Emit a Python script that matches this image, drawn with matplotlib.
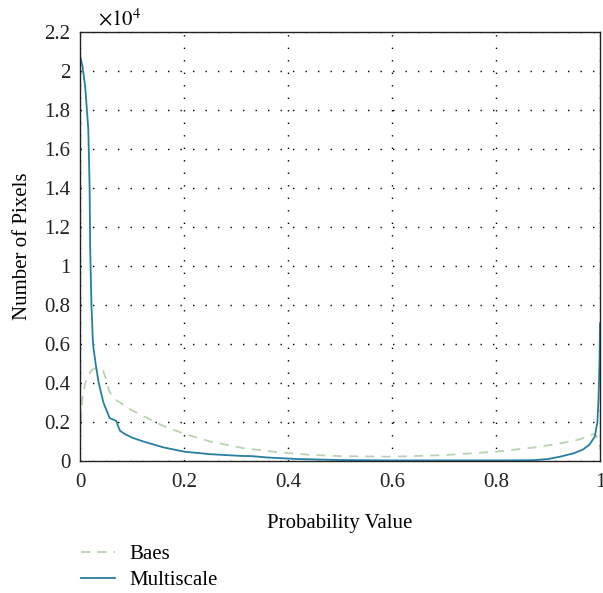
import matplotlib
matplotlib.use("Agg")
import matplotlib.pyplot as plt

plt.rcParams.update({
    "font.family": ["Liberation Serif", "DejaVu Serif"],
    "mathtext.fontset": "stix",
    "font.size": 15,
})

# values in units of 1e4 pixels
ms_x = [0, 0.005, 0.01, 0.016, 0.0185, 0.0195, 0.022, 0.025, 0.03, 0.036, 0.045,
        0.057, 0.066, 0.07, 0.073, 0.077, 0.085, 0.1, 0.122, 0.16, 0.2, 0.25, 0.31,
        0.33, 0.36, 0.42, 0.5, 0.6, 0.7, 0.8, 0.87, 0.9, 0.923, 0.95, 0.968,
        0.98, 0.99, 0.995, 0.997, 0.999, 1.0]
ms_y = [2.08, 2.02, 1.92, 1.70, 1.40, 1.10, 0.80, 0.60, 0.50, 0.40, 0.30,
        0.22, 0.21, 0.205, 0.18, 0.155, 0.14, 0.12, 0.10, 0.07, 0.048, 0.035, 0.026,
        0.025, 0.018, 0.01, 0.005, 0.003, 0.003, 0.003, 0.004, 0.01, 0.022, 0.04, 0.06,
        0.085, 0.125, 0.2, 0.31, 0.5, 0.706]

baes_x = [0, 0.004, 0.01, 0.016, 0.022, 0.029, 0.037, 0.045, 0.05, 0.056, 0.065,
          0.077, 0.1, 0.122, 0.16, 0.2, 0.25, 0.314, 0.38, 0.44, 0.5, 0.6, 0.7,
          0.8, 0.87, 0.923, 0.96, 0.99, 0.995, 1.0]
baes_y = [0.12, 0.31, 0.40, 0.44, 0.465, 0.475, 0.47, 0.46, 0.42, 0.36, 0.32,
          0.30, 0.26, 0.23, 0.18, 0.14, 0.10, 0.066, 0.045, 0.032, 0.025, 0.022,
          0.03, 0.048, 0.068, 0.09, 0.11, 0.14, 0.12, 0.073]

x_ticks = [0, 0.2, 0.4, 0.6, 0.8, 1]
x_tick_labels = ["0", "0.2", "0.4", "0.6", "0.8", "1"]
y_ticks = [0, 0.2, 0.4, 0.6, 0.8, 1, 1.2, 1.4, 1.6, 1.8, 2, 2.2]
y_tick_labels = ["0", "0.2", "0.4", "0.6", "0.8", "1", "1.2", "1.4", "1.6", "1.8", "2", "2.2"]

fig = plt.figure(figsize=(6.03, 5.93), dpi=100)
ax = fig.add_axes([80 / 603, 132 / 593, 520 / 603, 429 / 593])

ax.plot(baes_x, baes_y, color="#b9d3b2", lw=1.3, ls=(0, (5, 4)), label="Baes")
ax.plot(ms_x, ms_y, color="#267ea3", lw=1.3, label="Multiscale")

ax.set_xlim(0, 1)
ax.set_ylim(0, 2.2)
ax.set_xticks(x_ticks)
ax.set_xticklabels(x_tick_labels)
ax.set_yticks(y_ticks)
ax.set_yticklabels(y_tick_labels)
ax.tick_params(direction="in", length=0, labelcolor="#222222")
ax.tick_params(axis="x", pad=8.5)
ax.tick_params(axis="y", pad=7)
ax.grid(True, color="black", lw=1.0, ls=(0, (1, 8)))
for s in ax.spines.values():
    s.set_color("#222222")
    s.set_linewidth(1.0)

ax.set_xlabel("Probability Value", labelpad=16)
ax.set_ylabel("Number of Pixels", labelpad=9)
ax.text(0.035, 1.004, r"$\times10^4$", transform=ax.transAxes,
        ha="left", va="bottom", fontsize=15)

ax.legend(loc="upper left", bbox_to_anchor=(-0.014, -0.176), frameon=False,
          handlelength=1.65, handletextpad=0.67, labelspacing=0.3,
          borderaxespad=0)

fig.savefig("out.png", dpi=100)
